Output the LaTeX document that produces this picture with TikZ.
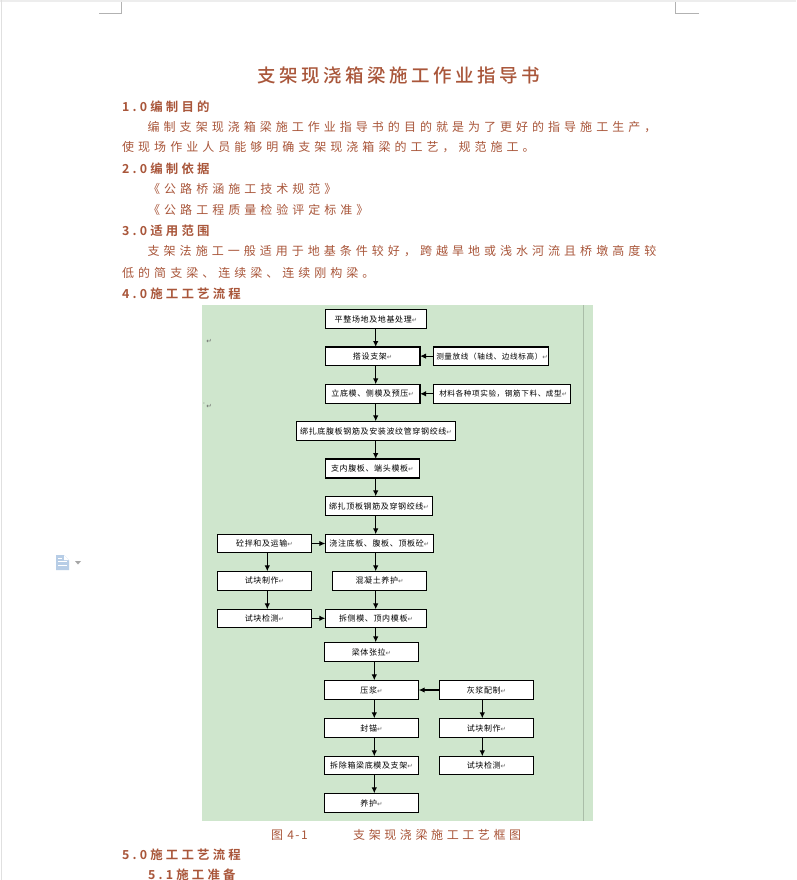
\documentclass[tikz,border=0pt]{standalone}
\usepackage{fontspec}
\usetikzlibrary{arrows.meta,calc}
\setmainfont{Noto Sans CJK SC}
\newfontfamily\bodyf[LetterSpace=33.5]{Noto Sans CJK SC}
\newfontfamily\capf[LetterSpace=30]{Noto Sans CJK SC}
\newfontfamily\capnf[LetterSpace=12]{Noto Sans CJK SC}
\newfontfamily\headf[LetterSpace=26]{Noto Sans CJK SC Bold}
\newfontfamily\titlef[LetterSpace=19]{Noto Sans CJK SC Medium}
\newfontfamily\boxf[LetterSpace=8]{Noto Sans CJK SC}
\newfontfamily\markf{DejaVu Sans}
\definecolor{rust}{HTML}{A9563A}
\definecolor{panel}{HTML}{CFE6CD}
\definecolor{iconblue}{HTML}{B7CDE6}
\newcommand{\retmark}{{\markf\fontsize{6.5}{6.5}\selectfont\textcolor{black!60}{↵}}}
\newcommand{\numgap}{\hspace{-3pt}}
\newcommand{\tightbox}{\fontsize{7.6}{9}\selectfont\hspace{2.5pt}}
\tikzset{
  x=1pt,y=-1pt,
  flowbox/.style={draw=black,line width=1.1pt,fill=white,inner sep=0pt,outer sep=0pt,font=\boxf\fontsize{8}{9}\selectfont,text=black},
  flow/.style={draw=black,line width=1.1pt,-{Latex[length=6pt,width=5.5pt]}},
  bodyline/.style={anchor=west,inner sep=0pt,text=rust,font=\bodyf\fontsize{12}{13}\selectfont},
  capline/.style={anchor=west,inner sep=0pt,text=rust,font=\capf\fontsize{12}{13}\selectfont},
  capnum/.style={anchor=west,inner sep=0pt,text=rust,font=\capnf\fontsize{12}{13}\selectfont},
  headline/.style={anchor=west,inner sep=0pt,text=rust,font=\headf\fontsize{12.4}{13}\selectfont},
  titleline/.style={anchor=center,inner sep=0pt,text=rust,font=\titlef\fontsize{18.5}{20}\selectfont},
  cropmark/.style={draw=black!30,line width=.8pt},
  retnode/.style={inner sep=0pt}
}
\newcommand{\flownode}[6]{% name, x0, y0, x1, y1, text
  \node[flowbox,minimum width={(#4-#2)*1pt},minimum height={(#5-#3)*1pt}] (#1) at ({(#2+#4)/2},{(#3+#5)/2}) {#6\retmark};
}
\begin{document}
\begin{tikzpicture}
\useasboundingbox (0,0) rectangle (796,880);
\fill[white] (0,0) rectangle (796,880);
% page edge
\fill[black!7] (0,0) rectangle (796,2);
\draw[black!12,line width=.8pt] (1,0) -- (1,880);
% crop marks
\draw[cropmark] (99,13.5) -- (121.5,13.5) -- (121.5,2);
\draw[cropmark] (699,13.5) -- (675.5,13.5) -- (675.5,2);
% side icon
\fill[iconblue] (56,555) -- (64,555) -- (69,560) -- (69,570) -- (56,570) -- cycle;
\fill[white] (64,555) -- (69,560) -- (64,560) -- cycle;
\draw[white,line width=.9pt] (58,558.5) -- (62,558.5) (58,561.5) -- (67,561.5) (58,565) -- (67,565);
\fill[black!35] (75,561) -- (81,561) -- (78,564.5) -- cycle;
% text
\node[titleline] (title) at (398.5,75) {支架现浇箱梁施工作业指导书};
\node[headline] (h1) at (122,106.5) {1.0\numgap{} 编制目的};
\node[bodyline] (l1) at (147.5,127) {编制支架现浇箱梁施工作业指导书的目的就是为了更好的指导施工生产，};
\node[bodyline] (l2) at (122,147.5) {使现场作业人员能够明确支架现浇箱梁的工艺，规范施工。};
\node[headline] (h2) at (122,168.5) {2.0\numgap{} 编制依据};
\node[bodyline] (l3) at (148,189) {《公路桥涵施工技术规范》};
\node[bodyline] (l4) at (148,210) {《公路工程质量检验评定标准》};
\node[headline] (h3) at (122,230.5) {3.0\numgap{} 适用范围};
\node[bodyline] (l5) at (147.5,251.5) {支架法施工一般适用于地基条件较好，跨越旱地或浅水河流且桥墩高度较};
\node[bodyline] (l6) at (122,272.5) {低的简支梁、连续梁、连续刚构梁。};
\node[headline] (h4) at (122,293.5) {4.0\numgap{} 施工工艺流程};
% panel
\fill[panel] (202,305) rectangle (593,821);
\draw[black!18!panel,line width=1pt] (583,305) -- (583,821);
\node[retnode] (m1) at (209,341) {\retmark};
\node[retnode] (m2) at (209,406) {\retmark};
\node[retnode,font=\markf\fontsize{5}{5}\selectfont,text=black!60] (m3) at (204,405) {'};
% boxes
\flownode{a}{325.3}{309.3}{426.7}{328.7}{平整场地及地基处理}
\flownode{b}{325.3}{347}{420}{365.3}{搭设支架}
\flownode{bs}{433.3}{347}{548.3}{365.3}{\tightbox 测量放线（轴线、边线标高）}
\flownode{c}{325.3}{384.3}{420}{403.3}{立底模、侧模及预压}
\flownode{cs}{433.3}{384.3}{570.7}{403.3}{\tightbox 材料各种项实验，钢筋下料、成型}
\flownode{d}{296.3}{421.3}{455.7}{440.7}{绑扎底腹板钢筋及安装波纹管穿钢绞线}
\flownode{e}{325.3}{459}{419.3}{478}{支内腹板、端头模板}
\flownode{f}{325.3}{496.3}{432.7}{515.7}{绑扎顶板钢筋及穿钢绞线}
\flownode{g}{325.3}{534.3}{433.3}{552.7}{浇注底板、腹板、顶板砼}
\flownode{gl}{217.3}{534.3}{311.7}{552.7}{砼拌和及运输}
\flownode{h}{332.3}{571.3}{426.7}{590.3}{混凝土养护}
\flownode{hl}{217.3}{571.3}{311.7}{590.3}{试块制作}
\flownode{i}{325.3}{609.3}{426.7}{627.3}{拆侧模、顶内模板}
\flownode{il}{217.3}{609.3}{311.7}{627.3}{试块检测}
\flownode{j}{324.3}{642.3}{418.7}{661.7}{梁体张拉}
\flownode{k}{324.3}{680.3}{418.7}{699.7}{压浆}
\flownode{kr}{439.3}{680.3}{533.7}{699.7}{灰浆配制}
\flownode{m}{324.3}{718.3}{418.7}{737.7}{封锚}
\flownode{mr}{439.3}{718.3}{533.7}{737.7}{试块制作}
\flownode{n}{324.3}{756.3}{418.7}{774.3}{拆除箱梁底模及支架}
\flownode{nr}{439.3}{756.3}{533.7}{774.3}{试块检测}
\flownode{o}{324.3}{793.3}{418.7}{812.7}{养护}
% spines
\coordinate (sa) at (375.7,0);
\coordinate (sb) at (374.3,0);
\coordinate (sl) at (267.3,0);
\coordinate (sr) at (482.3,0);
\foreach \p/\q in {a/b,b/c,c/d,d/e,e/f,f/g,g/h,h/i,i/j}
  \draw[flow] (\p.south -| sa) -- (\q.north -| sa);
\foreach \p/\q in {j/k,k/m,m/n,n/o}
  \draw[flow] (\p.south -| sb) -- (\q.north -| sb);
\foreach \p/\q in {gl/hl,hl/il}
  \draw[flow] (\p.south -| sl) -- (\q.north -| sl);
\foreach \p/\q in {kr/mr,mr/nr}
  \draw[flow] (\p.south -| sr) -- (\q.north -| sr);
\draw[flow] (bs.west) -- (b.east);
\draw[flow] (cs.west) -- (c.east);
\draw[flow] (gl.east) -- (g.west);
\draw[flow] (il.east) -- (i.west);
\draw[flow] (kr.west) -- (k.east);
% caption
\node[capnum] (cap1) at (271,835) {图 4-1};
\node[capline] (cap2) at (353,835) {支架现浇梁施工工艺框图};
\node[headline] (h5) at (122,854.5) {5.0\numgap{} 施工工艺流程};
\node[headline] (h51) at (148,875) {5.1\numgap{} 施工准备};
\end{tikzpicture}
\end{document}
